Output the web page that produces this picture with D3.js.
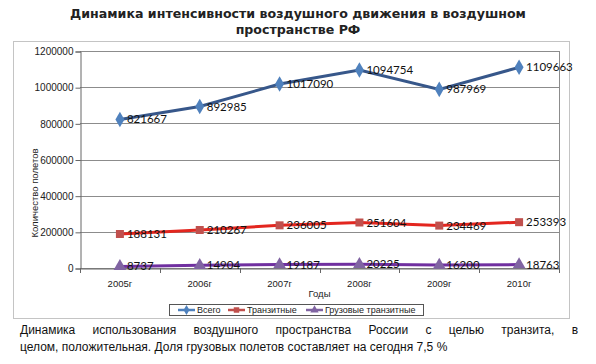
<!DOCTYPE html>
<html lang="ru">
<head>
<meta charset="UTF-8">
<title>Динамика интенсивности</title>
<script src="https://d3js.org/d3.v7.min.js"></script>
<style>
	body{margin:0;background:#fff;}
	svg{display:block;}
</style>
</head>
<body>
<script>
var years = ["2005г","2006г","2007г","2008г","2009г","2010г"];
var vsego = [821667, 892985, 1017090, 1094754, 987969, 1109663];
var tranzit = [188131, 210267, 236005, 251604, 234469, 253393];
var gruz = [8737, 14904, 19187, 20225, 16200, 18763];
var seriesNames = ["Всего", "Транзитные", "Грузовые транзитные"];
var yTicks = [0, 200000, 400000, 600000, 800000, 1000000, 1200000];

var series = [
	{name: seriesNames[0], values: vsego, line: "#37578a", fill: "#4f81bd", shape: d3.symbolDiamond},
	{name: seriesNames[1], values: tranzit, line: "#e3261f", fill: "#c0504d", shape: d3.symbolSquare},
	{name: seriesNames[2], values: gruz, line: "#7030a0", fill: "#8064a2", shape: d3.symbolTriangle}
];

var W = 596, H = 364;
var svg = d3.select("body").append("svg").attr("width", W).attr("height", H);

// title
var title = svg.append("text")
	.attr("text-anchor", "middle")
	.attr("font-family", "DejaVu Sans")
	.attr("font-weight", "bold")
	.attr("font-size", 12.6)
	.attr("fill", "#222");
title.append("tspan").attr("x", 298).attr("y", 18).text("Динамика интенсивности воздушного движения в воздушном");
title.append("tspan").attr("x", 298).attr("y", 34).text("пространстве РФ");

// chart frame
svg.append("rect")
	.attr("x", 13.5).attr("y", 41.5).attr("width", 556).attr("height", 277)
	.attr("fill", "#fff").attr("stroke", "#c4c4c4");

var plot = {left: 80, top: 51, right: 559, bottom: 268};

var x = d3.scaleBand().domain(years).range([plot.left, plot.right]);
var y = d3.scaleLinear().domain([0, 1200000]).range([plot.bottom, plot.top]);

// grid
svg.append("g").selectAll("line").data(yTicks).join("line")
	.attr("x1", plot.left).attr("x2", plot.right)
	.attr("y1", function(d){ return Math.round(y(d)) + 0.5; })
	.attr("y2", function(d){ return Math.round(y(d)) + 0.5; })
	.attr("stroke", "#8c8c8c").attr("stroke-width", 1);
svg.append("line")
	.attr("x1", plot.right + 0.5).attr("x2", plot.right + 0.5)
	.attr("y1", plot.top).attr("y2", plot.bottom)
	.attr("stroke", "#8c8c8c");

// y axis
var yAxis = svg.append("g")
	.attr("transform", "translate(" + (plot.left + 0.5) + ",0.5)")
	.call(d3.axisLeft(y).tickValues(yTicks).tickSize(5).tickPadding(2).tickFormat(d3.format("d")));
yAxis.select(".domain").attr("stroke", "#666");
yAxis.selectAll(".tick line").attr("stroke", "#666");
yAxis.selectAll("text").attr("font-family", "Liberation Sans").attr("font-size", 10).attr("fill", "#222");

// x axis
var xAxis = svg.append("g")
	.attr("transform", "translate(0," + (plot.bottom + 0.5) + ")")
	.call(d3.axisBottom(x).tickSize(0).tickPadding(12));
xAxis.select(".domain").attr("stroke", "#666");
xAxis.selectAll("text").attr("font-family", "Liberation Sans").attr("font-size", 9.5).attr("fill", "#222");
svg.append("g").selectAll("line").data(years.concat([null])).join("line")
	.attr("x1", function(d, i){ return Math.round(plot.left + i * x.step()) + 0.5; })
	.attr("x2", function(d, i){ return Math.round(plot.left + i * x.step()) + 0.5; })
	.attr("y1", plot.bottom).attr("y2", plot.bottom + 5)
	.attr("stroke", "#666");

// axis titles
svg.append("text")
	.attr("x", (plot.left + plot.right) / 2).attr("y", 296.5)
	.attr("text-anchor", "middle")
	.attr("font-family", "Liberation Sans").attr("font-size", 9.5).attr("fill", "#222")
	.text("Годы");
svg.append("text")
	.attr("transform", "translate(38,193) rotate(-90)")
	.attr("text-anchor", "middle")
	.attr("font-family", "Liberation Sans").attr("font-size", 9.5).attr("fill", "#222")
	.text("Количество полетов");

// lines and markers
var cx = function(i){ return x(years[i]) + x.bandwidth() / 2; };
var line = d3.line()
	.x(function(d, i){ return cx(i); })
	.y(function(d){ return y(d); });

series.forEach(function(s){
	svg.append("path")
		.datum(s.values)
		.attr("fill", "none")
		.attr("stroke", s.line)
		.attr("stroke-width", 3)
		.attr("d", line);
	svg.append("g").selectAll("path").data(s.values).join("path")
		.attr("transform", function(d, i){ return "translate(" + cx(i) + "," + y(d) + ")"; })
		.attr("d", d3.symbol().type(s.shape).size(s.shape === d3.symbolSquare ? 64 : 70))
		.attr("fill", s.fill);
	svg.append("g").selectAll("text").data(s.values).join("text")
		.attr("x", function(d, i){ return cx(i) + 7; })
		.attr("y", function(d){ return y(d); })
		.attr("dy", "0.35em")
		.attr("font-family", "Lato")
		.attr("font-size", 11.5)
		.attr("fill", "#111")
		.text(function(d){ return d; });
});

// legend
var lg = svg.append("g");
lg.append("rect")
	.attr("x", 169.5).attr("y", 304.5).attr("width", 254).attr("height", 11)
	.attr("fill", "#fff").attr("stroke", "#555");
var lx = [178, 228, 306];
series.forEach(function(s, i){
	var g = lg.append("g").attr("transform", "translate(" + lx[i] + ",310)");
	g.append("line").attr("x1", 0).attr("x2", 17).attr("stroke", s.fill).attr("stroke-width", 2.5);
	g.append("path").attr("transform", "translate(8.5,0)")
		.attr("d", d3.symbol().type(s.shape).size(30)).attr("fill", s.fill);
	g.append("text").attr("x", 19).attr("dy", "0.35em")
		.attr("font-family", "Liberation Sans").attr("font-size", 9).attr("fill", "#222")
		.text(s.name);
});

// caption, justified
var capLines = [
	"Динамика использования воздушного пространства России с целью транзита, в",
	"целом, положительная. Доля грузовых полетов составляет на сегодня 7,5 %"
];
capLines.forEach(function(txt, li){
	var words = txt.split(" ");
	var yy = 334 + li * 17;
	var nodes = words.map(function(w){
		return svg.append("text").attr("y", yy)
			.attr("font-family", "Liberation Sans").attr("font-size", 12).attr("fill", "#111")
			.text(w);
	});
	var widths = nodes.map(function(n){ return n.node().getComputedTextLength(); });
	var gap = 3.4;
	if (li === 0) {
		var total = d3.sum(widths);
		gap = (578 - 20 - total) / (words.length - 1);
	}
	var xx = 20;
	nodes.forEach(function(n, k){
		n.attr("x", xx);
		xx += widths[k] + gap;
	});
});
</script>
</body>
</html>
